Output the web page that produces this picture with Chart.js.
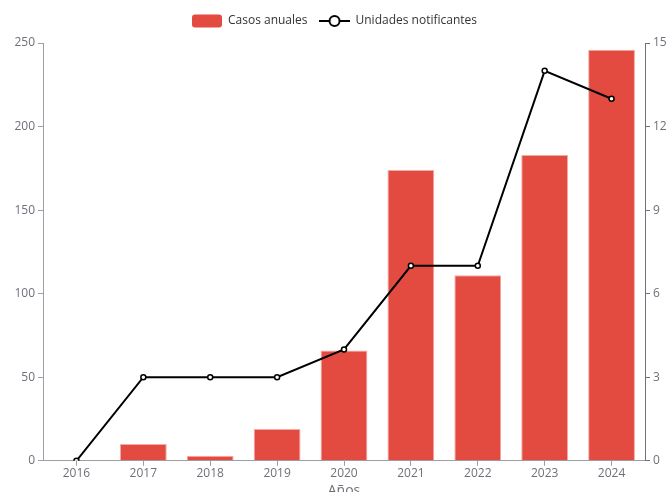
<!DOCTYPE html>
<html>
<head>
<meta charset="utf-8">
<script src="https://cdn.jsdelivr.net/npm/chart.js@4/dist/chart.umd.min.js"></script>
<style>
  html, body { margin: 0; padding: 0; background: #fff; overflow: hidden; }
  #wrap { width: 669px; height: 499px; position: relative; }
</style>
</head>
<body>
<div id="wrap"><canvas id="chart"></canvas></div>
<script>
// datos
const anios = ['2016', '2017', '2018', '2019', '2020', '2021', '2022', '2023', '2024'];
const casosAnuales = [0, 10, 3, 19, 66, 174, 111, 183, 246];
const unidadesNotificantes = [0, 3, 3, 3, 4, 7, 7, 14, 13];

const ROJO = '#e34b40';
const FUENTE = '"Open Sans", "Noto Sans", sans-serif';

// iconos de la leyenda (estilo echarts)
function iconoBarra() {
  const c = document.createElement('canvas');
  c.width = 30; c.height = 14;
  const g = c.getContext('2d');
  g.fillStyle = ROJO;
  g.beginPath();
  g.roundRect(0, 0.5, 30, 13, 3);
  g.fill();
  return c;
}
function iconoLinea() {
  const c = document.createElement('canvas');
  c.width = 31; c.height = 14;
  const g = c.getContext('2d');
  g.strokeStyle = '#000';
  g.lineWidth = 2;
  g.beginPath();
  g.moveTo(0, 7); g.lineTo(31, 7);
  g.stroke();
  g.beginPath();
  g.arc(15.5, 7, 5, 0, Math.PI * 2);
  g.fillStyle = '#fff';
  g.fill();
  g.stroke();
  return c;
}

// espacio extra debajo de la leyenda
const margenLeyenda = {
  id: 'margenLeyenda',
  beforeInit(chart) {
    const fitOriginal = chart.legend.fit;
    chart.legend.fit = function () {
      fitOriginal.bind(chart.legend)();
      this.height += 6;
    };
  }
};

const ctx = document.getElementById('chart').getContext('2d');
new Chart(ctx, {
  data: {
    labels: anios,
    datasets: [
      {
        type: 'bar',
        label: 'Casos anuales',
        data: casosAnuales,
        backgroundColor: ROJO,
        borderColor: '#f4aaa4',
        borderWidth: 1,
        barPercentage: 0.7,
        categoryPercentage: 1,
        yAxisID: 'y',
        order: 2
      },
      {
        type: 'line',
        label: 'Unidades notificantes',
        data: unidadesNotificantes,
        borderColor: '#000',
        borderWidth: 2,
        pointRadius: 2.5,
        pointBorderWidth: 1.5,
        pointBackgroundColor: '#fff',
        pointBorderColor: '#000',
        tension: 0,
        yAxisID: 'y1',
        order: 1
      }
    ]
  },
  plugins: [margenLeyenda],
  options: {
    responsive: true,
    maintainAspectRatio: false,
    animation: false,
    layout: { padding: { top: 3, left: 0, right: 0, bottom: 0 } },
    plugins: {
      tooltip: { enabled: false },
      legend: {
        position: 'top',
        labels: {
          usePointStyle: true,
          pointStyleWidth: 30,
          font: { family: FUENTE, size: 12 },
          color: '#333',
          padding: 12,
          generateLabels: () => [
            { text: 'Casos anuales', pointStyle: iconoBarra(), datasetIndex: 0, fontColor: '#333', lineWidth: 0 },
            { text: 'Unidades notificantes', pointStyle: iconoLinea(), datasetIndex: 1, fontColor: '#333', lineWidth: 0 }
          ]
        }
      }
    },
    scales: {
      x: {
        offset: true,
        grid: { display: true, drawOnChartArea: false, drawTicks: true, tickLength: 5, offset: false, color: '#9e9ea6' },
        border: { display: true, color: '#9e9ea6' },
        ticks: { color: '#6e7079', font: { family: FUENTE, size: 12 }, padding: 1, maxRotation: 0 },
        title: { display: true, text: 'Años', color: '#6e7079', font: { family: FUENTE, size: 14 }, padding: { top: 0, bottom: 0 } }
      },
      y: {
        position: 'left',
        min: 0, max: 250,
        grid: { display: true, drawOnChartArea: false, drawTicks: true, tickLength: 5, color: '#9e9ea6' },
        border: { display: true, color: '#9e9ea6' },
        ticks: { stepSize: 50, color: '#6e7079', font: { family: FUENTE, size: 12 }, padding: 3 },
        afterFit: s => { s.width = 43; }
      },
      y1: {
        position: 'right',
        min: 0, max: 15,
        grid: { display: true, drawOnChartArea: false, drawTicks: true, tickLength: 5, color: '#6e7079' },
        border: { display: true, color: '#6e7079' },
        ticks: { stepSize: 3, color: '#6e7079', font: { family: FUENTE, size: 12 }, padding: 3 },
        afterFit: s => { s.width = 24; }
      }
    }
  }
});
</script>
</body>
</html>
